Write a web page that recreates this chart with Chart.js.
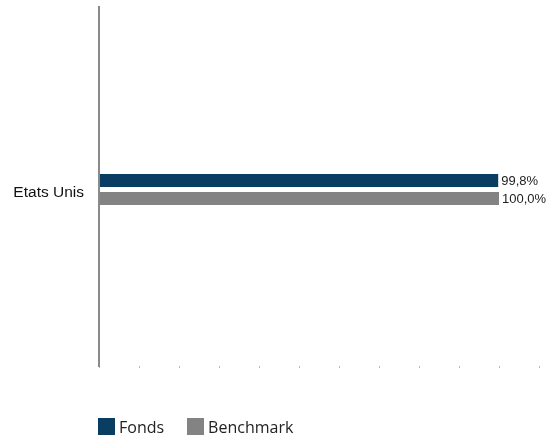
<!DOCTYPE html>
<html>
<head>
<meta charset="utf-8">
<script src="https://cdn.jsdelivr.net/npm/chart.js@4/dist/chart.umd.min.js"></script>
<style>
  html, body { margin: 0; padding: 0; background: #fff; }
  #wrap { position: relative; width: 546px; height: 438px; }
  #legend { position: absolute; left: 98px; top: 418px; font-family: "Open Sans", sans-serif; font-size: 16px; color: #222; display: flex; }
  .item { display: flex; align-items: center; margin-right: 23px; height: 17px; }
  .box { width: 17px; height: 17px; margin-right: 4px; }
</style>
</head>
<body>
<div id="wrap">
  <canvas id="chart" width="546" height="438"></canvas>
  <div id="legend"></div>
</div>
<script>
const categories = ["Etats Unis"];
const seriesNames = ["Fonds", "Benchmark"];
const fondsValues = [99.8];
const benchmarkValues = [100.0];
const seriesColors = ["#093d61", "#838383"];

// legende en HTML
const legendEl = document.getElementById("legend");
seriesNames.forEach((name, i) => {
  const item = document.createElement("div");
  item.className = "item";
  item.innerHTML = '<span class="box" style="background:' + seriesColors[i] + '"></span>' + name;
  legendEl.appendChild(item);
});

function fmt(v) {
  return v.toFixed(1).replace(".", ",") + "%";
}

// etiquettes de valeur et axe vertical
const extras = {
  id: "extras",
  afterDatasetsDraw(chart) {
    const ctx = chart.ctx;
    ctx.save();
    ctx.font = "13px 'Liberation Sans', Arial, sans-serif";
    ctx.fillStyle = "#222";
    ctx.textBaseline = "middle";
    ctx.textAlign = "left";
    chart.data.datasets.forEach((ds, i) => {
      chart.getDatasetMeta(i).data.forEach((bar, j) => {
        ctx.fillText(fmt(ds.data[j]), bar.x + 3, bar.y + 0.5);
      });
    });
    const x = chart.scales.x.getPixelForValue(0);
    ctx.strokeStyle = "#8a8a8a";
    ctx.lineWidth = 2;
    ctx.beginPath();
    ctx.moveTo(x, 6);
    ctx.lineTo(x, chart.chartArea.bottom + 1);
    ctx.stroke();
    ctx.restore();
  }
};

new Chart(document.getElementById("chart"), {
  type: "bar",
  data: {
    labels: categories,
    datasets: [
      { label: seriesNames[0], data: fondsValues, backgroundColor: seriesColors[0] },
      { label: seriesNames[1], data: benchmarkValues, backgroundColor: seriesColors[1] }
    ]
  },
  options: {
    indexAxis: "y",
    responsive: false,
    animation: false,
    categoryPercentage: 0.102,
    barPercentage: 0.722,
    layout: { padding: { top: 13, right: 7, bottom: 70, left: 0 } },
    plugins: { legend: { display: false }, tooltip: { enabled: false } },
    scales: {
      x: {
        min: 0,
        max: 110,
        ticks: { display: false, stepSize: 10 },
        border: { display: false },
        grid: { drawOnChartArea: false, drawTicks: true, tickLength: 2, color: "#b5b5b5" }
      },
      y: {
        afterFit(scale) { scale.width = 99; scale.paddingTop = 0; scale.paddingBottom = 0; },
        ticks: { padding: 7, labelOffset: 3, color: "#111", font: { family: "'Liberation Sans', Arial, sans-serif", size: 15.5 } },
        border: { display: false },
        grid: { display: false }
      }
    }
  },
  plugins: [extras]
});
</script>
</body>
</html>
